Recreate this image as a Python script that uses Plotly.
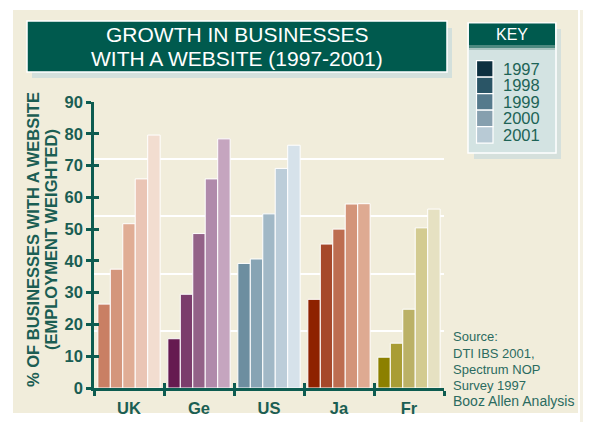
import plotly.graph_objects as go

# data
countries = ['UK', 'Ge', 'US', 'Ja', 'Fr']
years = ['1997', '1998', '1999', '2000', '2001']

uk = [26.4, 37.4, 51.7, 65.8, 79.6]
ge = [15.5, 29.5, 48.6, 65.8, 78.4]
us = [39.2, 40.6, 54.8, 69.1, 76.4]
ja = [27.9, 45.3, 50.0, 57.9, 58.0]
fr = [9.7, 14.1, 24.8, 50.4, 56.3]

# one colour ramp per country, dark (1997) -> light (2001)
uk_colors = ['#c97f64', '#d4967c', '#e0ad95', '#eac5b5', '#f2ddd0']
ge_colors = ['#661a50', '#7b3d6c', '#936288', '#b08aab', '#c5a5bf']
us_colors = ['#6d8ea0', '#87a4b4', '#a1b8c6', '#bccdd9', '#d6e2ea']
ja_colors = ['#8e2200', '#a6482a', '#bd6d50', '#d39479', '#deaa92']
fr_colors = ['#8c8000', '#a99d35', '#bbb166', '#d3cb91', '#e6e1c2']

key_colors = ['#0d3040', '#2a5566', '#557a8c', '#869fae', '#b8cad5']

y_ticks = [0, 10, 20, 30, 40, 50, 60, 70, 80, 90]
grid_vals = [18, 36, 54, 72, 90]

source_lines = ['Source:', 'DTI IBS 2001,', 'Spectrum NOP', 'Survey 1997']
source_last = 'Booz Allen Analysis'

# the page body adds an 8px margin, so the figure is drawn 8px smaller and
# every page-pixel position below is shifted by OFF
OFF = 8
W, H = 585, 414
L, R, T, B = 86, 149, 94, 34
PW, PH = W - L - R, H - T - B

CREAM = '#f1eddb'
DKGREEN = '#005a4e'
AXGREEN = '#0d5c50'
TXTGREEN = '#1b5e53'
FONT = 'Liberation Sans, Arial, sans-serif'


def px(x):
    return (x - OFF - L) / PW


def py(y):
    return (H - B - (y - OFF)) / PH


series = list(zip(uk, ge, us, ja, fr))
ramps = list(zip(uk_colors, ge_colors, us_colors, ja_colors, fr_colors))

fig = go.Figure()
for i, yr in enumerate(years):
    fig.add_trace(go.Bar(
        x=countries, y=list(series[i]), name=yr,
        marker=dict(color=list(ramps[i]), line=dict(color='white', width=1)),
        showlegend=False,
    ))

# empty helper traces so the overlay axes get drawn
fig.add_trace(go.Scatter(x=[], y=[], xaxis='x2', yaxis='y2', showlegend=False, hoverinfo='skip'))
fig.add_trace(go.Scatter(x=[], y=[], xaxis='x', yaxis='y3', showlegend=False, hoverinfo='skip'))

fig.update_layout(
    width=W, height=H,
    margin=dict(l=L, r=R, t=T, b=B),
    paper_bgcolor='white',
    plot_bgcolor='rgba(0,0,0,0)',
    barmode='group', bargap=0.11, bargroupgap=0,
    font=dict(family=FONT, color=TXTGREEN),
    xaxis=dict(
        type='category', categoryorder='array', categoryarray=countries,
        range=[-0.5, 4.5], showline=True, linecolor=AXGREEN, linewidth=2.5,
        ticks='outside', tickson='boundaries', ticklen=5, tickwidth=2.5, tickcolor=AXGREEN,
        ticklabelstandoff=3, automargin=False,
        tickfont=dict(size=16.5, family=FONT, color=TXTGREEN, weight='bold'),
        showgrid=False, zeroline=False, fixedrange=True,
    ),
    xaxis2=dict(
        overlaying='x', anchor='y', range=[-0.5, 4.5], automargin=False,
        tickvals=[-0.5, 0.5, 1.5, 2.5, 3.5, 4.5], ticks='inside', ticklen=5,
        tickwidth=2.5, tickcolor=AXGREEN, showticklabels=False,
        showgrid=False, zeroline=False, showline=False,
    ),
    yaxis=dict(
        range=[0, 90], tickvals=y_ticks, showline=True, linecolor=AXGREEN, linewidth=2.5,
        ticks='outside', ticklen=5, tickwidth=2.5, tickcolor=AXGREEN, automargin=False,
        tickfont=dict(size=16.5, family=FONT, color=TXTGREEN, weight='bold'),
        showgrid=False, zeroline=False,
    ),
    yaxis2=dict(
        overlaying='y', anchor='x', range=[0, 90], tickvals=y_ticks, automargin=False,
        ticks='inside', ticklen=5, tickwidth=2.5, tickcolor=AXGREEN,
        showticklabels=False, showgrid=False, zeroline=False, showline=False,
    ),
    yaxis3=dict(
        overlaying='y', anchor='x', range=[0, 90], tickvals=grid_vals, automargin=False,
        ticks='', showticklabels=False, showgrid=True, gridcolor='white', gridwidth=1.5,
        zeroline=False, showline=False,
    ),
)

shapes = []


def rect(x0, y0, x1, y1, fill, line=None, width=0, layer='below'):
    shapes.append(dict(
        type='rect', xref='paper', yref='paper', layer=layer,
        x0=px(x0), x1=px(x1), y0=py(y1), y1=py(y0),
        fillcolor=fill, line=dict(color=line or fill, width=width),
    ))


# cream card
rect(13, 10, 578, 413, CREAM)
rect(580, 10, 583, 422, '#f4f1e4')

# title box with shadow
rect(32, 28, 452, 78, '#d3e0dc')
rect(27, 21, 447, 72, DKGREEN, 'white', 1.5)

# key box with shadow
rect(474, 29, 561, 159, '#d5e0dc')
rect(468, 23, 556, 153, '#d3e3e2', 'white', 1.5)
rect(469, 23.5, 555, 45, DKGREEN)
rect(469, 45, 555, 48, '#4d8a80')
rect(469, 48, 555, 50, '#a9c4c0')

for i, c in enumerate(key_colors):
    top = 60.7 + i * 16.5
    rect(476.5, top, 493, top + 16.5, c, 'white', 1.2)

fig.update_layout(shapes=shapes)

ann = []


def text(x, y, s, size, color, xanchor='left', bold=False, angle=0):
    ann.append(dict(
        xref='paper', yref='paper', x=px(x), y=py(y), text=s, showarrow=False,
        xanchor=xanchor, yanchor='middle', textangle=angle,
        font=dict(family=FONT, size=size, color=color, weight='bold' if bold else 'normal'),
    ))


text(237, 34.5, 'GROWTH IN BUSINESSES', 21, 'white', 'center')
text(237, 58, 'WITH A WEBSITE (1997-2001)', 21, 'white', 'center')
text(512, 34, 'KEY', 16, 'white', 'center')
for i, yr in enumerate(years):
    text(501, 68.7 + i * 16.5, yr, 16.5, '#1d6356')

for i, s in enumerate(source_lines):
    text(451, 336.7 + i * 16.3, s, 13, '#2b6b5f')
text(451, 400.5, source_last, 14, '#2b6b5f')

text(33, 240, '% OF BUSINESSES WITH A WEBSITE', 16.5, TXTGREEN, 'center', True, -90)
text(51, 240, '(EMPLOYMENT WEIGHTED)', 16.5, TXTGREEN, 'center', True, -90)

fig.update_layout(annotations=ann)

fig.write_html("out.html")
